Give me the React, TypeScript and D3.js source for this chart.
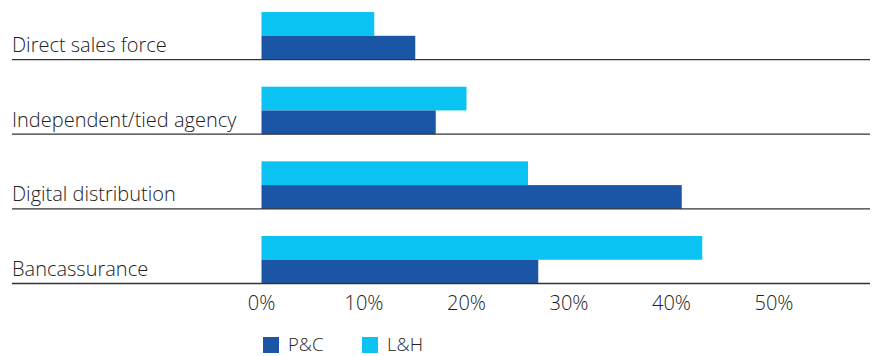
import React from "react";
import * as d3 from "d3";

const categories = ["Direct sales force", "Independent/tied agency", "Digital distribution", "Bancassurance"];
const seriesNames = ["L&H", "P&C"];
const lhValues = [11, 20, 26, 43];
const pcValues = [15, 17, 41, 27];
const tickValues = [0, 10, 20, 30, 40, 50];
const legendItems = ["P&C", "L&H"];

const W = 875;
const H = 356;
const colors: Record<string, string> = { "P&C": "#1b56a6", "L&H": "#0ac3f3" };
const FONT = "'Open Sans', Arial, Helvetica, sans-serif";

export default function App() {
  const x = d3.scaleLinear().domain([0, 50]).range([261.5, 774]);
  const y = d3.scaleBand<string>().domain(categories).range([-15.1, 283.5]).padding(0);
  const step = y.bandwidth();
  const sub = d3.scaleBand<string>().domain(seriesNames).range([step - 47.5, step]).padding(0);
  const rows = categories.map((c, i) => ({ c, "L&H": lhValues[i], "P&C": pcValues[i] }));
  const lineY = (c: string) => (y(c) as number) + step;
  const axisY = lineY(categories[categories.length - 1]);

  return (
    <svg width={W} height={H} style={{ position: "absolute", left: 0, top: 0, display: "block" }}>
      <rect width={W} height={H} fill="#fff" />
      {rows.map((r) => (
        <g key={r.c} transform={`translate(0,${y(r.c)})`}>
          {seriesNames.map((s) => (
            <rect
              key={s}
              x={x(0)}
              y={sub(s)}
              width={x((r as any)[s]) - x(0)}
              height={sub.bandwidth()}
              fill={colors[s]}
            />
          ))}
          <text x={12} y={step - 7.5} fontFamily={FONT} fontSize={20} fontWeight={300} fill="#222">
            {r.c}
          </text>
        </g>
      ))}
      {categories.map((c) => (
        <line key={c} x1={12} x2={870} y1={lineY(c)} y2={lineY(c)} stroke="#333" strokeWidth={1.3} />
      ))}
      {tickValues.map((t) => (
        <text
          key={t}
          x={x(t)}
          y={axisY + 26.5}
          textAnchor="middle"
          fontFamily={FONT}
          fontSize={20}
          fontWeight={300}
          fill="#222"
        >
          {d3.format(".0%")(t / 100)}
        </text>
      ))}
      {legendItems.map((s, i) => {
        const lx = 263 + i * 99;
        return (
          <g key={s}>
            <rect x={lx} y={337} width={16} height={16} fill={colors[s]} />
            <text x={lx + 25} y={351} fontFamily={FONT} fontSize={18.5} fontWeight={300} fill="#222">
              {s}
            </text>
          </g>
        );
      })}
    </svg>
  );
}
